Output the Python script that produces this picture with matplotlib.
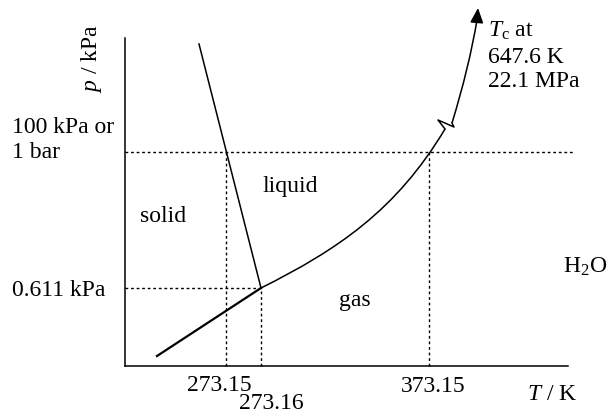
import numpy as np
import matplotlib
matplotlib.use('Agg')
import matplotlib.pyplot as plt
from matplotlib.path import Path
from matplotlib.patches import PathPatch

plt.rcParams['font.family'] = ['Liberation Serif', 'DejaVu Serif']
plt.rcParams['mathtext.fontset'] = 'custom'
plt.rcParams['mathtext.rm'] = 'Liberation Serif'
plt.rcParams['mathtext.it'] = 'Liberation Serif:italic'

# schematic coordinates (no real scale), origin at the axes corner
subl_x = [32, 136]
subl_y = [10, 78]
fus_x = [136, 74]
fus_y = [78, 322]
# vapour curve below the break: cubic bezier (start, ctrl, ctrl, end)
vap_x = [136, 212.6, 271.4, 320]
vap_y = [78, 116.3, 155.8, 237]
# break mark
brk_x = [320, 313, 329, 327]
brk_y = [237, 246, 239, 243]
# vapour curve above the break: quadratic bezier (start, ctrl, end)
top_x = [327, 344.1, 352]
top_y = [243, 298.6, 346]
tip = (353, 358)

# reference points: (T position, p position)
t_ice, t_triple, t_boil = 101, 136, 304
p_triple, p_atm = 78, 214

fs = 17
fig = plt.figure(figsize=(6.11, 4.13), dpi=100)
ax = fig.add_axes([125/611, 47/413, 443/611, 328/413])
ax.set_xlim(0, 443)
ax.set_ylim(0, 328)
ax.spines['top'].set_visible(False)
ax.spines['right'].set_visible(False)
for s in ['left', 'bottom']:
    ax.spines[s].set_linewidth(1.1)
ax.set_xticks([])
ax.set_yticks([])

dot = dict(color='black', lw=1.0, ls=(0, (2, 2)), clip_on=False)
ax.plot([0, 450], [p_atm, p_atm], **dot)
ax.plot([0, t_triple], [p_triple, p_triple], **dot)
ax.plot([t_ice, t_ice], [0, p_atm], **dot)
ax.plot([t_triple, t_triple], [0, p_triple], **dot)
ax.plot([t_boil, t_boil], [0, p_atm], **dot)

ax.plot(subl_x, subl_y, color='black', lw=1.6)
ax.plot(fus_x, fus_y, color='black', lw=1.1)

vap = Path(np.column_stack([vap_x, vap_y]),
           [Path.MOVETO, Path.CURVE4, Path.CURVE4, Path.CURVE4])
ax.add_patch(PathPatch(vap, fill=False, color='black', lw=1.1, clip_on=False))
ax.plot(brk_x, brk_y, color='black', lw=1.1, clip_on=False)
top = Path(np.column_stack([top_x, top_y]),
           [Path.MOVETO, Path.CURVE3, Path.CURVE3])
ax.add_patch(PathPatch(top, fill=False, color='black', lw=1.1, clip_on=False))
ax.annotate('', xy=tip, xytext=(top_x[-1], top_y[-1]), annotation_clip=False,
            arrowprops=dict(arrowstyle='-|>,head_length=0.45,head_width=0.2',
                            mutation_scale=20, color='black', lw=1.1,
                            shrinkA=0, shrinkB=0))

ax.text(-33, 307, '$p$ / kPa', rotation=90, ha='center', va='center', fontsize=fs)
ax.text(-113, 233, '100 kPa or', ha='left', va='baseline', fontsize=fs)
ax.text(-113, 208, '1 bar', ha='left', va='baseline', fontsize=fs)
ax.text(-113, 70, '0.611 kPa', ha='left', va='baseline', fontsize=fs)
ax.text(38, 144, 'solid', ha='center', va='baseline', fontsize=fs)
ax.text(165, 174, 'liquid', ha='center', va='baseline', fontsize=fs)
ax.text(230, 60, 'gas', ha='center', va='baseline', fontsize=fs)
ax.text(438, 93, 'H$_2$O', ha='left', va='baseline', fontsize=fs)
ax.text(402, -34, '$T$ / K', ha='left', va='baseline', fontsize=fs)
ax.text(94, -25, '273.15', ha='center', va='baseline', fontsize=fs)
ax.text(146.5, -43, '273.16', ha='center', va='baseline', fontsize=fs)
ax.text(308, -26, '373.15', ha='center', va='baseline', fontsize=fs)
ax.text(363, 329, '$T_{\\rm c}$ at', ha='left', va='baseline', fontsize=fs)
ax.text(363, 303, '647.6 K', ha='left', va='baseline', fontsize=fs)
ax.text(363, 279, '22.1 MPa', ha='left', va='baseline', fontsize=fs)

fig.savefig('out.png', dpi=100)
